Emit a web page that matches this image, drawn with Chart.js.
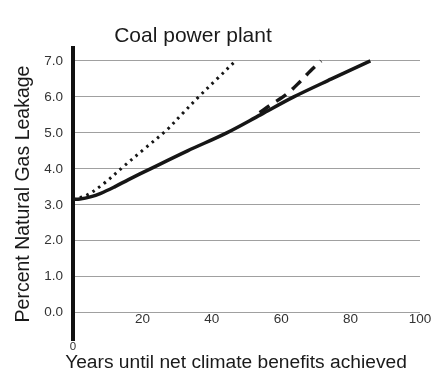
<!DOCTYPE html>
<html>
<head>
<meta charset="utf-8">
<script src="https://cdn.jsdelivr.net/npm/chart.js@4"></script>
<style>
  html, body { margin: 0; padding: 0; background: #fff; }
  #wrap { width: 440px; height: 383px; }
</style>
</head>
<body>
<div id="wrap"><canvas id="leakChart" width="440" height="383"></canvas></div>
<script>
// Values
const solidYears  = [0, 2, 5, 8, 12, 16, 22.3, 33, 44.3, 54, 63.6, 74.5, 85.7];
const solidLeak   = [3.15, 3.16, 3.22, 3.32, 3.5, 3.7, 4.0, 4.5, 5.0, 5.5, 6.0, 6.5, 7.0];
const dottedYears = [0, 4, 9, 14.5, 20.5, 27, 31.5, 36.2, 41.5, 46.8];
const dottedLeak  = [3.15, 3.27, 3.6, 4.06, 4.55, 5.08, 5.53, 6.0, 6.5, 7.0];
const dashedYears = [53.8, 57, 61.5, 65.5, 68.4, 71.5];
const dashedLeak  = [5.56, 5.78, 6.07, 6.43, 6.72, 7.0];
const yTicks = [0, 1, 2, 3, 4, 5, 6, 7];
const xTicks = [20, 40, 60, 80, 100];

const FONT = 'Liberation Sans, Arial, Helvetica, sans-serif';
const pts = (xs, ys) => xs.map((x, i) => ({ x: x, y: ys[i] }));

// Chart title and x-axis title, placed where the picture has them
const titlePlugin = {
  id: 'plotTitles',
  afterDraw(chart) {
    const ctx = chart.ctx;
    ctx.save();
    ctx.fillStyle = '#1a1a1a';
    ctx.textAlign = 'center';
    ctx.textBaseline = 'alphabetic';
    ctx.font = '21px ' + FONT;
    ctx.fillText('Coal power plant', 193, 42);
    ctx.font = '19.2px ' + FONT;
    ctx.fillText('Years until net climate benefits achieved', 236, 368);
    ctx.restore();
  }
};

const lineBase = {
  pointRadius: 0,
  borderColor: '#161616',
  fill: false,
  tension: 0.35
};

new Chart(document.getElementById('leakChart').getContext('2d'), {
  type: 'line',
  data: {
    datasets: [
      Object.assign({}, lineBase, { label: 'solid', data: pts(solidYears, solidLeak), borderWidth: 3.5 }),
      Object.assign({}, lineBase, { label: 'dotted', data: pts(dottedYears, dottedLeak), borderWidth: 3, borderDash: [2.5, 4.5] }),
      Object.assign({}, lineBase, { label: 'dashed', data: pts(dashedYears, dashedLeak), borderWidth: 3.5, borderDash: [12, 8] })
    ]
  },
  options: {
    responsive: false,
    animation: false,
    layout: { padding: { top: 48, right: 20, left: 0, bottom: 0 } },
    plugins: { legend: { display: false }, tooltip: { enabled: false } },
    scales: {
      x: {
        type: 'linear',
        min: 0, max: 100,
        position: { y: 0 },
        grid: { display: false, drawTicks: false },
        border: { display: false },
        afterBuildTicks: s => { s.ticks = xTicks.map(v => ({ value: v })); },
        ticks: { color: '#333', font: { family: FONT, size: 13.5 }, padding: -1 }
      },
      x2: {
        type: 'linear',
        axis: 'x',
        min: 0, max: 100,
        position: 'bottom',
        grid: { display: false, drawTicks: false },
        border: { display: false },
        afterBuildTicks: s => { s.ticks = [{ value: 0 }]; },
        afterFit: s => { s.height = 43; },
        ticks: { color: '#333', font: { family: FONT, size: 11.5 }, padding: 0 }
      },
      y: {
        type: 'linear',
        min: -0.76, max: 7.36,
        afterBuildTicks: s => { s.ticks = yTicks.map(v => ({ value: v })); },
        afterFit: s => { s.width = 73; },
        grid: { color: '#a0a0a0', lineWidth: 1, drawTicks: false },
        border: { display: true, color: '#111', width: 4 },
        ticks: {
          color: '#333',
          font: { family: FONT, size: 13.5 },
          padding: 10,
          callback: v => Number(v).toFixed(1)
        },
        title: {
          display: true,
          text: 'Percent Natural Gas Leakage',
          color: '#1a1a1a',
          font: { family: FONT, size: 19.5 },
          padding: { top: 12, bottom: 0 }
        }
      }
    }
  },
  plugins: [titlePlugin]
});
</script>
</body>
</html>
